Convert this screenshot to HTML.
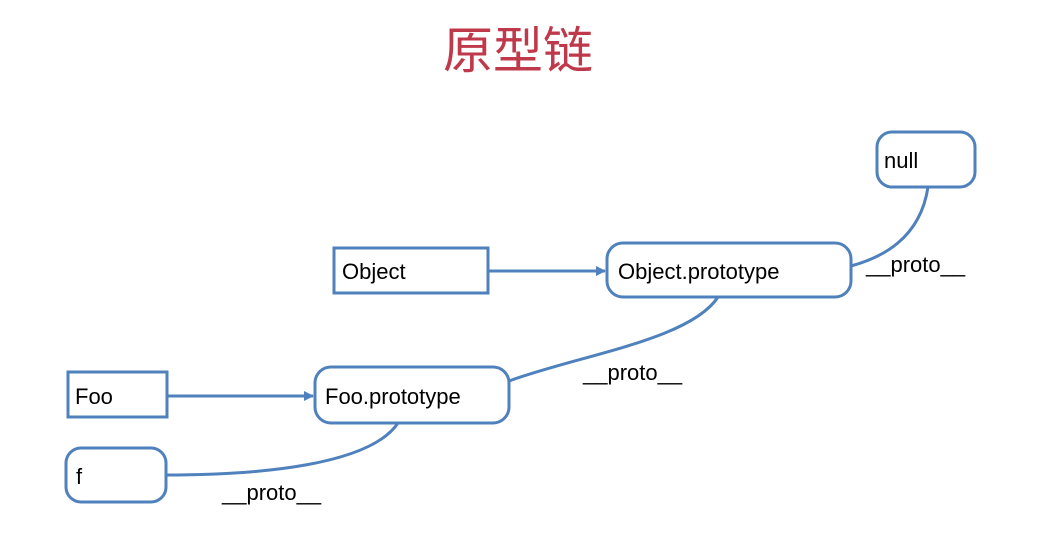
<!DOCTYPE html>
<html><head><meta charset="utf-8"><style>
body{margin:0;background:#fff;width:1042px;height:540px;overflow:hidden}
</style></head><body>
<svg width="1042" height="540" xmlns="http://www.w3.org/2000/svg">
<defs><marker id="a" markerWidth="10" markerHeight="10" refX="9" refY="5" orient="auto" markerUnits="userSpaceOnUse"><path d="M0,0 L10,5 L0,10 z" fill="#4f81bd"/></marker></defs>
<text x="518" y="68" text-anchor="middle" font-family="'Noto Sans CJK SC',sans-serif" font-size="50" fill="#c0394b">原型链</text>
<g fill="none" stroke="#4f81bd" stroke-width="3">
<rect x="877" y="132" width="98" height="55" rx="15"/>
<rect x="334" y="248" width="154" height="45"/>
<rect x="607" y="243" width="244" height="54" rx="16"/>
<rect x="68" y="372" width="99" height="45"/>
<rect x="315" y="367" width="194" height="56" rx="16"/>
<rect x="66" y="448" width="100" height="54" rx="15"/>
<path d="M928,187 C920,240 880,258 851,266"/>
<path d="M718,297 C690,340 580,355 509,381"/>
<path d="M398,423 C370,465 260,475 166,475"/>
<path d="M488,271 L605,271" marker-end="url(#a)"/>
<path d="M167,396 L313,396" marker-end="url(#a)"/>
</g>
<g font-family="'Liberation Sans',sans-serif" font-size="22" fill="#000">
<text x="884" y="168">null</text>
<text x="342" y="279">Object</text>
<text x="618" y="279">Object.prototype</text>
<text x="75" y="404">Foo</text>
<text x="325" y="404">Foo.prototype</text>
<text x="76" y="484">f</text>
<text x="866" y="272">__proto__</text>
<text x="583" y="380">__proto__</text>
<text x="222" y="500">__proto__</text>
</g>
</svg>
</body></html>
